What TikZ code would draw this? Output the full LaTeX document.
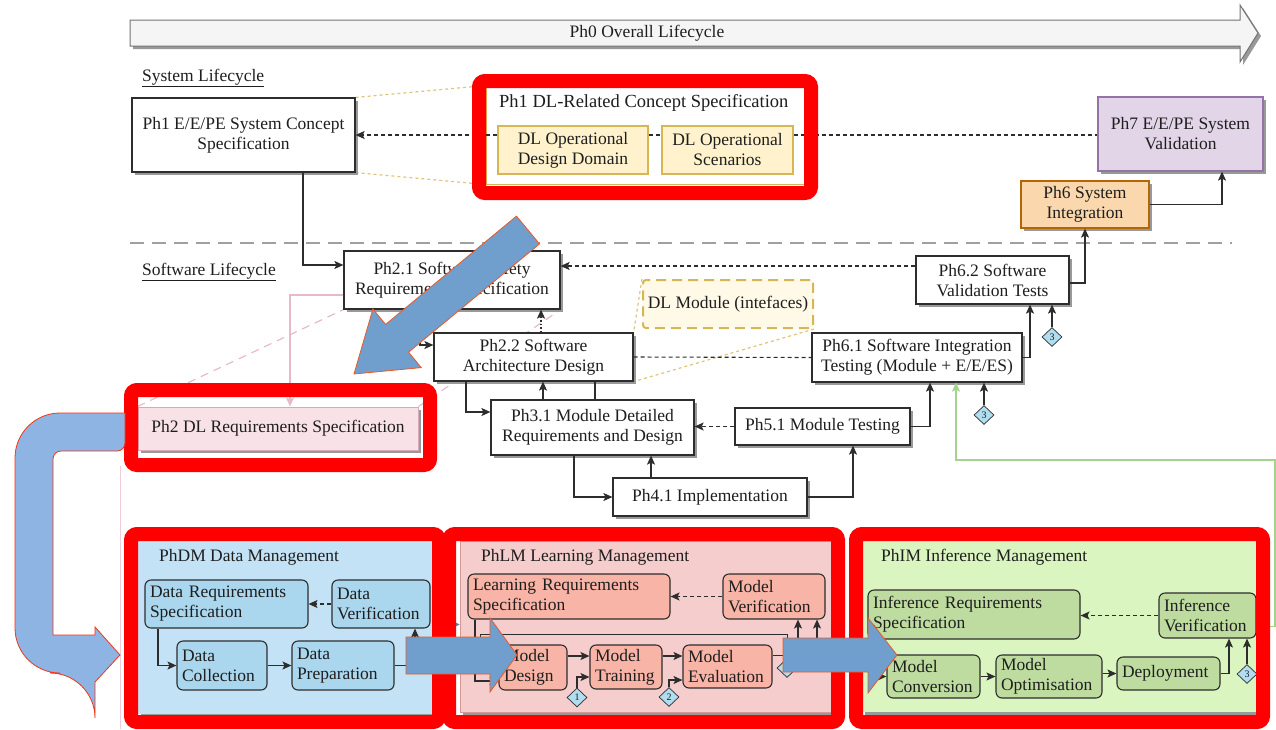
\documentclass[tikz,border=0pt]{standalone}
\usepackage{fontspec}
\setmainfont{Liberation Serif}
\usetikzlibrary{arrows.meta,shapes.geometric,shadows,backgrounds}
\definecolor{txt}{RGB}{30,30,30}
\definecolor{bd}{RGB}{45,45,45}
\definecolor{gold}{RGB}{214,182,86}
\definecolor{goldfill}{RGB}{255,242,204}
\definecolor{purfill}{RGB}{225,213,231}
\definecolor{purbd}{RGB}{150,115,166}
\definecolor{orfill}{RGB}{250,215,172}
\definecolor{orbd}{RGB}{180,101,4}
\definecolor{pinkfill}{RGB}{248,226,232}
\definecolor{pinkbd}{RGB}{215,170,185}
\definecolor{pinkln}{RGB}{232,185,200}
\definecolor{dmpan}{RGB}{196,226,245}
\definecolor{dmbox}{RGB}{170,214,238}
\definecolor{lmpan}{RGB}{245,205,204}
\definecolor{lmbox}{RGB}{248,180,166}
\definecolor{lmbd}{RGB}{184,84,80}
\definecolor{impan}{RGB}{218,245,192}
\definecolor{imbox}{RGB}{190,220,160}
\definecolor{diaf}{RGB}{177,221,240}
\definecolor{grn}{RGB}{165,210,140}
\definecolor{blk}{RGB}{112,158,205}
\definecolor{blkl}{RGB}{141,180,226}
\definecolor{blko}{RGB}{232,90,40}
\definecolor{frred}{RGB}{255,0,0}
\definecolor{sepc}{RGB}{160,160,160}
\begin{document}
\begin{tikzpicture}[x=1pt,y=-1pt,
  base/.style={font=\fontsize{17.5}{20}\selectfont, text=txt, inner sep=2pt},
  shd/.style={drop shadow={shadow xshift=3pt,shadow yshift=-3pt,fill=black!40,opacity=1}},
  box/.style={base, shd, draw=bd, line width=1.2pt, fill=white, align=center},
  ybox/.style={base, draw=gold, fill=goldfill, line width=1.2pt, align=center},
  rbox/.style={base, draw=bd, line width=1.1pt, rounded corners=6pt, align=left, inner xsep=5pt, inner ysep=2pt},
  ttl/.style={base, anchor=west},
  dia/.style={diamond, draw=bd, fill=diaf, line width=0.7pt, inner sep=0pt, minimum width=20pt, minimum height=19pt, font=\fontsize{10}{10}\selectfont, text=txt},
  arr/.style={draw=bd, line width=1.2pt, -{Stealth[length=9pt,width=8pt,inset=2pt]}},
  darr/.style={arr, dash pattern=on 4pt off 3pt},
  dotarr/.style={arr, dash pattern=on 1.5pt off 2pt},
  dline/.style={draw=bd, line width=1.1pt, dash pattern=on 4pt off 3pt},
  sline/.style={draw=bd, line width=1.2pt},
  gdot/.style={draw=gold!80, line width=1.2pt, dash pattern=on 3pt off 3pt},
  pdash/.style={draw=pinkln, line width=1.2pt, dash pattern=on 8pt off 6pt},
  parr/.style={draw=pinkln, line width=1.2pt, -{Stealth[length=9pt,width=8pt,inset=2pt]}},
  garr/.style={draw=grn, line width=1.2pt, -{Stealth[length=9pt,width=8pt,inset=2pt]}},
  redfr/.style={draw=frred, line width=14pt, rounded corners=6pt},
  blockar/.style={fill=blk, draw=blko, line width=0.8pt}
]
\useasboundingbox (0,0) rectangle (1276,729);

% ---------- top lifecycle arrow ----------
\draw[draw=black!55, line width=1pt, fill=black!4, shd] (130,20) -- (1240,20) -- (1240,5) -- (1258,33) -- (1240,62) -- (1240,46) -- (130,46) -- cycle;
\node[base] (ph0) at (647,33) {Ph0 Overall Lifecycle};

\node[ttl] (syslc) at (140,78) {\underline{System Lifecycle}};
\node[ttl] (swlc) at (140,272) {\underline{Software Lifecycle}};
\coordinate (sepL) at (130,243);
\coordinate (sepR) at (1232,243);
\draw[sepc, line width=1.8pt, dash pattern=on 14pt off 8pt] (sepL) -- (sepR);

% ---------- system lifecycle ----------
\node[box, minimum width=223pt, minimum height=74pt] (ph1sys) at (243.5,135) {Ph1 E/E/PE System Concept\\Specification};
\node[draw=gold, fill=white, line width=1pt, minimum width=319pt, minimum height=98pt, inner sep=0pt] (ph1dl) at (645.5,135) {};
\node[ttl, font=\fontsize{18.5}{21}\selectfont] (ph1dlt) at (497,103) {Ph1 DL-Related Concept Specification};
\node[ybox, minimum width=150pt, minimum height=48pt] (odd) at (573,150) {DL Operational\\Design Domain};
\node[ybox, minimum width=131pt, minimum height=48pt] (scen) at (727.5,150) {DL Operational\\Scenarios};
\node[box, fill=purfill, draw=purbd, minimum width=165pt, minimum height=74pt] (ph7) at (1180.5,134) {Ph7 E/E/PE System\\Validation};
\node[box, fill=orfill, draw=orbd, minimum width=128pt, minimum height=47pt] (ph6) at (1085,204.5) {Ph6 System\\Integration};

% ---------- software lifecycle ----------
\node[box, minimum width=216pt, minimum height=58pt] (ph21) at (452,280) {Ph2.1 Software Safety\\Requirements Specification};
\node[box, minimum width=153pt, minimum height=48pt] (ph62) at (992.5,280) {Ph6.2 Software\\Validation Tests};
\node[base, draw=gold, fill=goldfill!45, line width=2pt, dash pattern=on 10pt off 6pt, rounded corners=3pt, minimum width=170pt, minimum height=48pt, inner sep=1pt] (dlmod) at (728,304) {DL Module (intefaces)};
\node[box, minimum width=199pt, minimum height=48pt] (ph22) at (533.5,357) {Ph2.2 Software\\Architecture Design};
\node[box, minimum width=210pt, minimum height=49pt] (ph61) at (917,357.5) {Ph6.1 Software Integration\\Testing (Module + E/E/ES)};
\node[box, fill=pinkfill, draw=pinkbd, line width=1pt, minimum width=280pt, minimum height=43pt] (ph2dl) at (278,428.5) {Ph2 DL Requirements Specification};
\node[box, minimum width=203pt, minimum height=55pt] (ph31) at (592.5,427.5) {Ph3.1 Module Detailed\\Requirements and Design};
\node[box, minimum width=175pt, minimum height=37pt] (ph51) at (822.5,426.5) {Ph5.1 Module Testing};
\node[box, minimum width=194pt, minimum height=38pt] (ph41) at (710,497) {Ph4.1 Implementation};
\node[dia] (d3b) at (1052,337) {3};
\node[dia] (d3c) at (984,415) {3};

% zoom lines on background
\coordinate (pz1) at (120,466);
\coordinate (pz2) at (120,729);
\begin{pgfonlayer}{background}
\draw[pdash] (ph2dl.north west) -- (ph21.south west);
\draw[pdash] (ph2dl.north east) -- (ph21.south east);
\draw[draw=pinkln!70, line width=1pt] (pz1) -- (pz2);
\draw[gdot] (ph1sys.north east) -- (ph1dl.north west);
\draw[gdot] (ph1sys.south east) -- (ph1dl.south west);
\draw[gdot] (dlmod.north west) -- (ph22.north east);
\draw[gdot] (dlmod.south east) -- (ph22.south east);
\end{pgfonlayer}

% connectors (top)
\draw[darr] ([yshift=15pt]odd.west) -- (ph1sys.east);
\draw[dline] ([yshift=15pt]odd.east) -- ([yshift=15pt]scen.west);
\draw[dline] ([yshift=15pt]scen.east) -- ([yshift=-1pt]ph7.west);
\draw[arr] (ph6.east) -| ([xshift=41.5pt]ph7.south);
\draw[arr] ([yshift=-3pt]ph62.east) -| (ph6.south);
\draw[arr] ([xshift=59.5pt]ph1sys.south) |- ([yshift=15pt]ph21.west);
\draw[darr] ([yshift=14pt]ph62.west) -- ([yshift=14pt]ph21.east);
\draw[arr] ([xshift=-32pt]ph21.south) |- ([yshift=12pt]ph22.west);
\draw[dotarr] ([xshift=7.5pt]ph22.north) -- ([xshift=89pt]ph21.south);
\draw[dline] (ph22.east) -- (ph61.west);
\draw[arr] ([xshift=-67.5pt]ph22.south) |- ([yshift=15.5pt]ph31.west);
\draw[arr] ([xshift=-49.5pt]ph31.north) -- ([xshift=9.5pt]ph22.south);
\draw[sline] ([xshift=61.5pt]ph22.south) -- ([xshift=2.5pt]ph31.north);
\draw[darr] (ph51.west) -- (ph31.east |- ph51.west);
\draw[arr] (ph51.east) -| ([xshift=13pt]ph61.south);
\draw[arr] ([xshift=-18.5pt]ph31.south) |- (ph41.west);
\draw[arr] ([xshift=-59pt]ph41.north) -- ([xshift=58.5pt]ph31.south);
\draw[arr] (ph41.east) -| ([xshift=30.5pt]ph51.south);
\draw[arr] (ph61.east) -| ([xshift=37.5pt]ph62.south);
\draw[arr] (d3b.north) -- (d3b.north |- ph62.south);
\draw[arr] (d3c.north) -- (d3c.north |- ph61.south);
\draw[parr] ([yshift=-15pt]ph21.west) -| ([xshift=12pt]ph2dl.north);

% ---------- bottom panels ----------
\node[shd, fill=dmpan, draw=none, minimum width=294pt, minimum height=173pt, inner sep=0pt] (dmpanel) at (285,627.5) {};
\node[shd, fill=lmpan, draw=lmbd!60, line width=0.8pt, minimum width=372pt, minimum height=171pt, inner sep=0pt] (lmpanel) at (646,626.5) {};
\node[shd, fill=impan, draw=none, minimum width=396pt, minimum height=171pt, inner sep=0pt] (impanel) at (1060,626.5) {};
\node[ttl] (dmt) at (157,557) {PhDM Data Management};
\node[ttl] (lmt) at (479,557) {PhLM Learning Management};
\node[ttl] (imt) at (879,557) {PhIM Inference Management};

% DM
\node[rbox, fill=dmbox, text width=153pt, minimum height=48pt] (dreq) at (226.5,604) {Data Requirements\\Specification};
\node[rbox, fill=dmbox, text width=88pt, minimum height=48pt] (dver) at (381,604) {Data\\Verification};
\node[rbox, fill=dmbox, text width=80pt, minimum height=49pt] (dcol) at (222,665.5) {Data\\Collection};
\node[rbox, fill=dmbox, text width=92pt, minimum height=49pt] (dprep) at (343,665.5) {Data\\Preparation};
\draw[darr] (dver.west) -- (dreq.east);
\draw[arr] ([xshift=-68.5pt]dreq.south) |- (dcol.west);
\draw[arr] (dcol.east) -- (dprep.west);
\draw[arr] (dprep.east) -| ([xshift=34pt]dver.south);

% LM
\coordinate (lc1) at (480,646);
\coordinate (lc2) at (480,634);
\coordinate (lc3) at (787,634);
\coordinate (lc4) at (787,646);
\draw[draw=bd, line width=0.9pt] (lc1) -- (lc2) -- (lc3) -- (lc4);
\node[rbox, fill=lmbox, text width=192pt, minimum height=45pt] (lreq) at (569,596.5) {Learning Requirements\\Specification};
\node[rbox, fill=lmbox, text width=92pt, minimum height=45pt] (mver) at (774,596.5) {Model\\Verification};
\node[rbox, fill=lmbox, text width=58pt, minimum height=45pt] (mdes) at (533,667.5) {Model\\Design};
\node[rbox, fill=lmbox, text width=62pt, minimum height=44pt] (mtr) at (626,667) {Model\\Training};
\node[rbox, fill=lmbox, text width=79pt, minimum height=43pt] (meval) at (727.5,666.5) {Model\\Evaluation};
\node[dia] (d1) at (577,697.5) {1};
\node[dia] (d2) at (669,697) {2};
\node[dia] (d3a) at (787,668) {3};
\draw[darr] (mver.west) -- (lreq.east);
\draw[arr] ([xshift=-94pt]lreq.south) |- ([yshift=-13.5pt]mdes.west);
\draw[arr] ([yshift=11.5pt]mdes.east) -- ([yshift=11pt]mtr.west);
\draw[arr] ([yshift=11pt]mtr.east) -- ([yshift=10.5pt]meval.west);
\draw[arr] (d1.north) |- ([yshift=-10pt]mtr.west);
\draw[arr] (d2.north) |- ([yshift=-13.5pt]meval.west);
\draw[arr] ([yshift=11pt]meval.east) -| ([xshift=24pt]mver.south);
\draw[arr] (d3a.east) -| ([xshift=43pt]mver.south);

% IM
\node[rbox, fill=imbox, text width=202pt, minimum height=49pt] (ireq) at (974,614.5) {Inference Requirements\\Specification};
\node[rbox, fill=imbox, text width=87pt, minimum height=45pt] (iver) at (1207.5,615.5) {Inference\\Verification};
\node[rbox, fill=imbox, text width=83pt, minimum height=43pt] (mconv) at (933.5,676.5) {Model\\Conversion};
\node[rbox, fill=imbox, text width=96pt, minimum height=43pt] (mopt) at (1049,676.5) {Model\\Optimisation};
\node[rbox, fill=imbox, text width=93pt, minimum height=33pt] (depl) at (1168.5,673.5) {Deployment};
\node[dia] (d3d) at (1247,674) {3};
\draw[darr] (iver.west) -- (ireq.east |- iver.west);
\draw[arr] ([xshift=-95pt]ireq.south) |- (mconv.west);
\draw[arr] (mconv.east) -- (mopt.west);
\draw[arr] ([yshift=3pt]mopt.east) -- (depl.west);
\draw[arr] (depl.east) -| ([xshift=21.5pt]iver.south);
\draw[arr] (d3d.north) -- (d3d.north |- iver.south);

% inter-panel and green feedback
\draw[draw=blk!80!black, line width=1pt, -{Stealth[length=6pt,width=6pt]}] ([yshift=3pt]dmpanel.east) -- ([yshift=2pt]lmpanel.west);
\coordinate (gturn) at (1275,460);
\draw[garr] (impanel.east) -| (gturn) -| ([xshift=39pt]ph61.south);

% ---------- red highlight frames ----------
\draw[redfr] (479,81) rectangle (811,193);
\draw[redfr] (131,390) rectangle (430,465);
\draw[redfr] (131,534) rectangle (439,722);
\draw[redfr] (449,534) rectangle (838,722);
\draw[redfr] (856,534) rectangle (1263,722);

% ---------- blue block arrows ----------
\filldraw[blockar] (354,374) -- (421.3,367.6) -- (408.6,352.2) -- (539.5,243.9) -- (516.5,216.1) -- (385.6,324.4) -- (372.9,309) -- cycle;
\filldraw[fill=blkl, draw=blko!60!red, line width=0.8pt] (125,413) [rounded corners=45pt] -- (15,413) -- (15,673) -- (95,673) [sharp corners] -- (95,682) -- (120,655) -- (95,627) -- (95,635) -- (53,635) [rounded corners=8pt] -- (53,451) -- (125,451) [sharp corners] -- cycle;
\filldraw[blockar] (406,637) -- (490,637) -- (490,618) -- (517,655) -- (490,692) -- (490,674) -- (406,674) -- cycle;
\filldraw[blockar] (783,638) -- (868,638) -- (868,618) -- (897,655) -- (868,693) -- (868,672) -- (783,672) -- cycle;
\end{tikzpicture}
\end{document}
